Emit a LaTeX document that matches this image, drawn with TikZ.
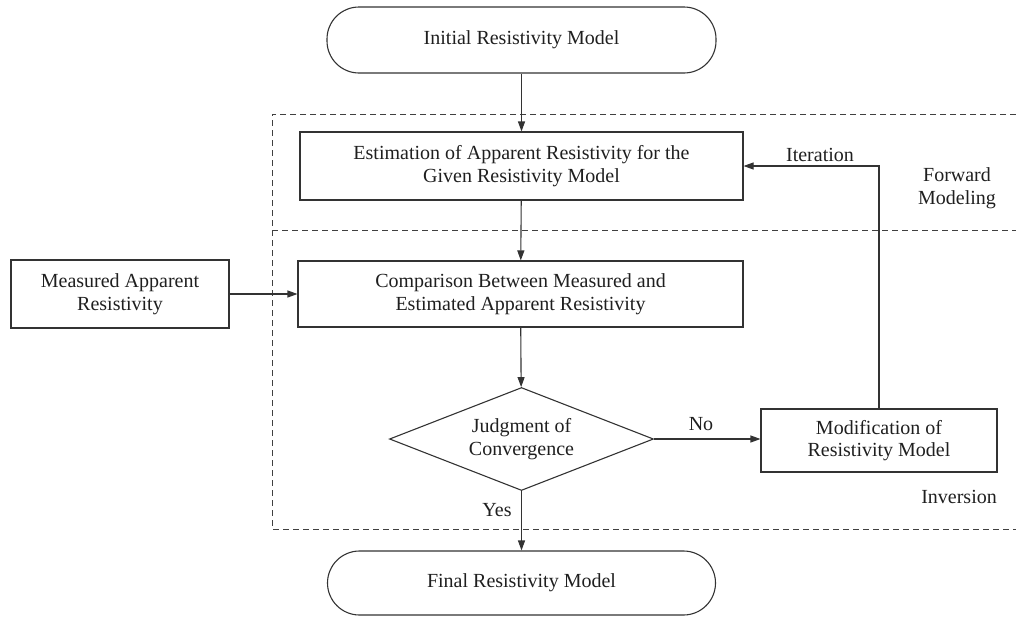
\documentclass[tikz,border=0pt]{standalone}
\usepackage{fontspec}
\setmainfont{Liberation Serif}
\usetikzlibrary{shapes.geometric,arrows.meta}
\begin{document}
\begin{tikzpicture}[x=1pt,y=-1pt,
  font=\fontsize{20}{22.5}\selectfont,
  every node/.style={text=black!88},
  line/.style={draw=black!80,line width=1.1pt},
  arr/.style={line,-{Triangle[length=10pt,width=7pt]}},
  proc/.style={line,rectangle,inner sep=0pt,align=center},
  term/.style={line,rectangle,rounded corners=32pt,inner sep=0pt,align=center},
  decide/.style={line,diamond,aspect=2.56,inner sep=0pt,align=center,
                 minimum width=264pt,minimum height=103pt},
  region/.style={draw=black!75,line width=1pt,dash pattern=on 6pt off 4pt},
  tag/.style={align=center,inner sep=0pt}]
\useasboundingbox (0,0) rectangle (1016,616);

% dashed frames for the two stages
\draw[region] (1016,114) -- (272,114) -- (272,529) -- (1016,529);
\draw[region] (272,230) -- (1016,230);

% flowchart blocks
\node[term,minimum width=389pt,minimum height=66pt] (init) at (521.5,40)
  {Initial Resistivity Model};
\node[proc,minimum width=443pt,minimum height=68pt] (estim) at (521.5,166)
  {Estimation of Apparent Resistivity for the\\Given Resistivity Model};
\node[proc,minimum width=445pt,minimum height=66pt] (comp) at (520.5,294)
  {Comparison Between Measured and\\Estimated Apparent Resistivity};
\node[proc,minimum width=218pt,minimum height=68pt] (meas) at (120,294)
  {Measured Apparent\\Resistivity};
\node[decide] (judge) at (521.5,439)
  {Judgment of\\Convergence};
\node[proc,minimum width=236pt,minimum height=63pt] (modif) at (879,440.5)
  {Modification of\\Resistivity Model};
\node[term,minimum width=388pt,minimum height=64pt] (final) at (521.5,583)
  {Final Resistivity Model};

% connectors
\draw[arr] (init) -- (estim);
\draw[arr] (estim) -- (comp);
\draw[arr] (meas) -- (comp);
\draw[arr] (comp) -- (judge);
\draw[arr] (judge.east) -- (judge.east -| modif.west);
\draw[arr] (judge) -- (final);
\draw[arr] (modif.north) |- (estim.east);

% labels
\node[tag] (lit) at (820,155) {Iteration};
\node[tag] (lfw) at (957,188) {Forward\\Modeling};
\node[tag,anchor=east] (linv) at (997,497) {Inversion};
\node[tag] (lno) at (701,424) {No};
\node[tag] (lyes) at (497,510) {Yes};
\end{tikzpicture}
\end{document}
